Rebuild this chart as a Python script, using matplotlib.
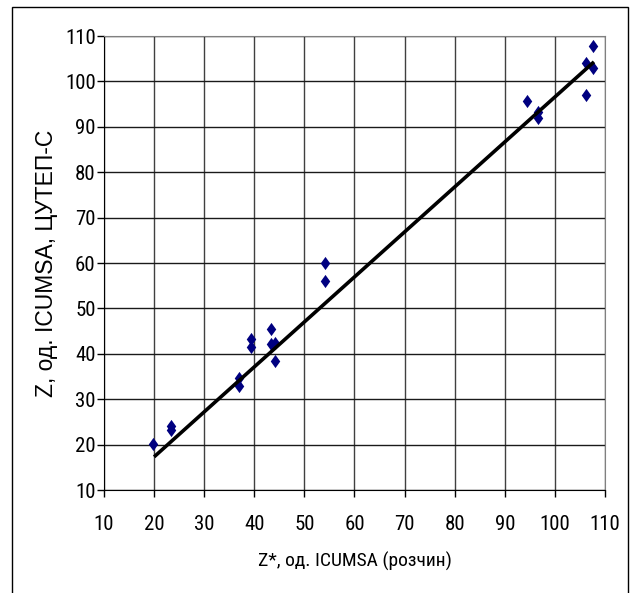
import matplotlib
matplotlib.use("Agg")
import matplotlib.pyplot as plt
from matplotlib.patches import Rectangle
from matplotlib.path import Path

COND = ['Roboto Condensed', 'PT Sans Narrow', 'DejaVu Sans']
REG = ['Liberation Sans', 'DejaVu Sans']
plt.rcParams['font.family'] = COND

# Data
x_solution = [19.8, 23.3, 23.3, 37.0, 37.0, 39.4, 39.4, 43.3, 43.3, 44.1, 44.2,
              54.1, 54.1, 94.4, 96.6, 96.6, 106.2, 106.2, 107.6, 107.6]
y_cutep = [20.1, 23.2, 24.0, 34.7, 32.9, 43.3, 41.5, 45.5, 42.1, 42.4, 38.4,
           56.0, 60.0, 95.7, 93.3, 91.9, 97.0, 104.0, 107.8, 103.0]
trend_x = [20.0, 107.8]
trend_y = [17.3, 104.3]
ticks = [10, 20, 30, 40, 50, 60, 70, 80, 90, 100, 110]
xlabel = "Z*, од. ICUMSA (розчин)"
ylabel = "Z, од. ICUMSA, ЦУТЕП-С"

fig = plt.figure(figsize=(6.32, 5.93), dpi=100)
ax = fig.add_axes([104/632, 1-490/593, (605-104)/632, (490-36)/593])

# outer frame
fig.patches.append(Rectangle((12/632, -0.05), (628-12)/632, 1.05 - 7/593,
                             transform=fig.transFigure, fill=False,
                             edgecolor='black', linewidth=1.0))

ax.set_xlim(10, 110)
ax.set_ylim(10, 110)
ax.set_xticks(ticks)
ax.set_yticks(ticks)
ax.grid(True, axis='y', color='#1a1a1a', linewidth=1.0)
ax.grid(True, axis='x', color='#404040', linewidth=1.0)
ax.set_axisbelow(True)

for s in ['top', 'right']:
    ax.spines[s].set_color('#808080')
ax.spines['left'].set_color('black')
ax.spines['bottom'].set_color('black')

diamond = Path([(0, 1), (0.72, 0), (0, -1), (-0.72, 0), (0, 1)],
               [Path.MOVETO, Path.LINETO, Path.LINETO, Path.LINETO, Path.CLOSEPOLY])
ax.plot(x_solution, y_cutep, linestyle='none', marker=diamond, markersize=9.5,
        color='#000080', markeredgewidth=0, zorder=3)

ax.plot(trend_x, trend_y, color='black', linewidth=2.6, zorder=4,
        solid_capstyle='butt')

ax.tick_params(direction='out', length=5, width=1, colors='black', labelsize=15)
ax.tick_params(axis='x', pad=13)
ax.tick_params(axis='y', pad=1)
ax.set_xlabel(xlabel, fontsize=14, labelpad=13)
ax.set_ylabel(ylabel, fontsize=16.5, labelpad=5, family=REG)

fig.savefig("out.png", dpi=100)
